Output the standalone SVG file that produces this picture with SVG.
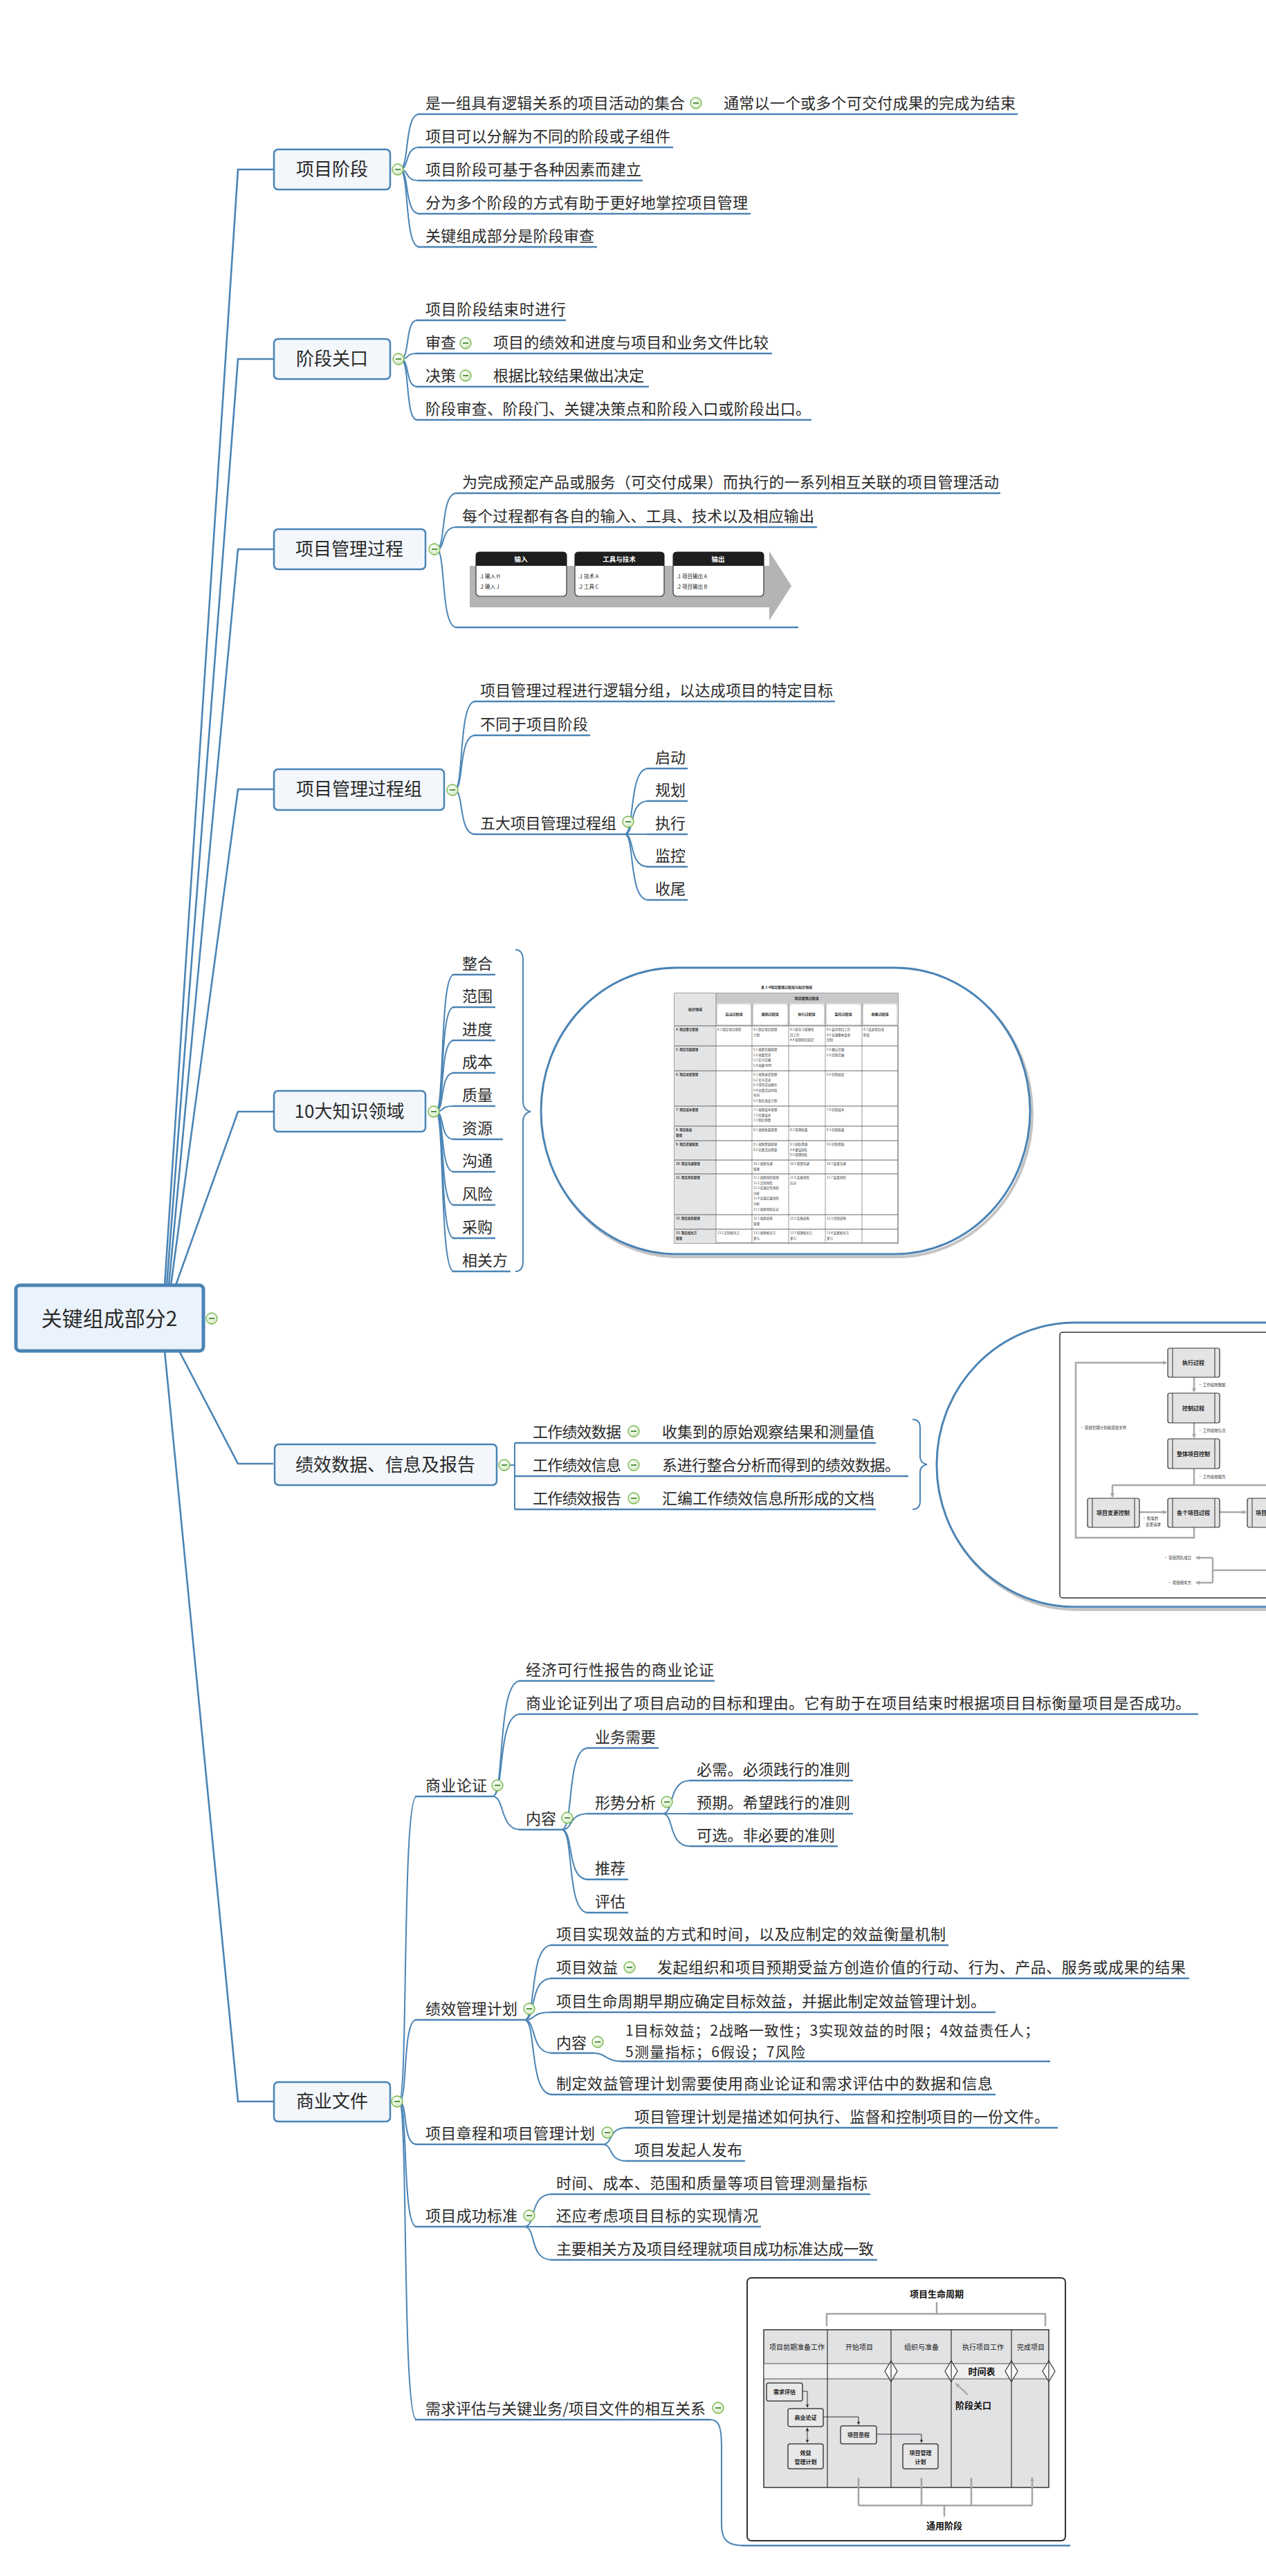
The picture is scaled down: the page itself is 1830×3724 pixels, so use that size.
<svg xmlns="http://www.w3.org/2000/svg" xmlns:xlink="http://www.w3.org/1999/xlink" width="1830" height="3724" viewBox="0 0 1830 3724">
<style>
.t{font-family:"Noto Sans CJK SC","Liberation Sans",sans-serif;font-size:22px;fill:#2a2a2a}
.tb{font-family:"Noto Sans CJK SC","Liberation Sans",sans-serif;font-size:26px;fill:#2a2a2a;text-anchor:middle}
.rt{font-family:"Noto Sans CJK SC","Liberation Sans",sans-serif;font-size:30px;fill:#2a2a2a;text-anchor:middle}
.box{fill:#F3F7FC;stroke:#4A84B5;stroke-width:2.5}
.ul{stroke:#4A84B5;stroke-width:2.5;fill:none}
.cn{stroke:#4A84B5;stroke-width:2;fill:none}
.mb{stroke:#4A84B5;stroke-width:2.6;fill:none}
.sm{font-family:"Noto Sans CJK SC","Liberation Sans",sans-serif;fill:#222}
.ph{font-family:"Noto Sans CJK SC","Liberation Sans",sans-serif;font-size:9.5px;font-weight:bold;fill:#FFFFFF;text-anchor:middle}
.pt{font-family:"Noto Sans CJK SC","Liberation Sans",sans-serif;font-size:7.5px;fill:#222}
.tt{font-family:"Noto Sans CJK SC","Liberation Sans",sans-serif;font-size:4.5px;fill:#333}
.th{font-family:"Noto Sans CJK SC","Liberation Sans",sans-serif;font-size:5px;font-weight:bold;fill:#222;text-anchor:middle}
.fb{fill:#E4E4E4;stroke:#333;stroke-width:1.2}
.fl{font-family:"Noto Sans CJK SC","Liberation Sans",sans-serif;font-size:8px;font-weight:bold;fill:#222;text-anchor:middle}
.fs{font-family:"Noto Sans CJK SC","Liberation Sans",sans-serif;font-size:5.5px;fill:#333}
.ga{stroke:#A8A8A8;stroke-width:2.5;fill:none}
.lb{fill:#E8E8E8;stroke:#444;stroke-width:1.5}
.ll{font-family:"Noto Sans CJK SC","Liberation Sans",sans-serif;font-size:8px;font-weight:bold;fill:#222;text-anchor:middle}
.lh{font-family:"Noto Sans CJK SC","Liberation Sans",sans-serif;font-size:10px;fill:#222;text-anchor:middle}
.lx{font-family:"Noto Sans CJK SC","Liberation Sans",sans-serif;font-size:13px;font-weight:bold;fill:#111;text-anchor:middle}
</style>
<defs>
<radialGradient id="cg" cx="0.4" cy="0.35" r="0.7">
<stop offset="0" stop-color="#FFFFFF"/><stop offset="1" stop-color="#CFE8BC"/>
</radialGradient>
<g id="col"><circle r="8" fill="url(#cg)" stroke="#74B347" stroke-width="1.3"/><line x1="-4" y1="0" x2="4" y2="0" stroke="#2E7D1A" stroke-width="1.6"/></g>
<marker id="ag" markerWidth="6" markerHeight="6" refX="5" refY="3" orient="auto" markerUnits="userSpaceOnUse"><path d="M0,0 L6,3 L0,6 z" fill="#A8A8A8"/></marker>
<marker id="ad" markerWidth="5" markerHeight="5" refX="4.5" refY="2.5" orient="auto" markerUnits="userSpaceOnUse"><path d="M0,0 L5,2.5 L0,5 z" fill="#333"/></marker>
<marker id="ads" markerWidth="5" markerHeight="5" refX="0.5" refY="2.5" orient="auto" markerUnits="userSpaceOnUse"><path d="M5,0 L0,2.5 L5,5 z" fill="#333"/></marker>
</defs>
<rect width="1830" height="3724" fill="#FFFFFF"/>

<!-- connectors -->
<g id="connectors">
<path class="mb" d="M238 1858 L344 245 L395 245"/>
<path class="mb" d="M241 1858 L344 519 L395 519"/>
<path class="mb" d="M244 1858 L344 794 L395 794"/>
<path class="mb" d="M247 1858 L344 1141 L395 1141"/>
<path class="mb" d="M254 1858 L344 1607 L395 1607"/>
<path class="mb" d="M259 1953 L344 2116 L395 2116"/>
<path class="mb" d="M238 1953 L344 3038 L395 3038"/>
<path class="cn" d="M578 245 C592 245 584 165 606 165"/>
<path class="cn" d="M578 245 C592 245 584 213 606 213"/>
<path class="cn" d="M578 245 C592 245 584 261 606 261"/>
<path class="cn" d="M578 245 C592 245 584 309 606 309"/>
<path class="cn" d="M578 245 C592 245 584 357 606 357"/>
<path class="cn" d="M579 519 C593 519 585 463 603 463"/>
<path class="cn" d="M579 519 C593 519 585 511 603 511"/>
<path class="cn" d="M579 519 C593 519 585 559 603 559"/>
<path class="cn" d="M579 519 C593 519 585 607 603 607"/>
<path class="cn" d="M631 794 C645 794 636 713 660 713"/>
<path class="cn" d="M631 794 C645 794 636 762 660 762"/>
<path class="cn" d="M631 794 C645 794 636 907 660 907"/>
<path class="cn" d="M657 1142 C671 1142 662 1014 687 1014"/>
<path class="cn" d="M657 1142 C671 1142 662 1063 687 1063"/>
<path class="cn" d="M657 1142 C671 1142 662 1206 687 1206"/>
<path class="cn" d="M903 1206 C918 1206 908 1111 937 1111"/>
<path class="cn" d="M903 1206 C918 1206 908 1158 937 1158"/>
<path class="cn" d="M903 1206 L937 1206"/>
<path class="cn" d="M903 1206 C918 1206 908 1253 937 1253"/>
<path class="cn" d="M903 1206 C918 1206 908 1301 937 1301"/>
<path class="cn" d="M630 1607 C643 1607 635 1409 656 1409"/>
<path class="cn" d="M630 1607 C643 1607 635 1456 656 1456"/>
<path class="cn" d="M630 1607 C643 1607 635 1504 656 1504"/>
<path class="cn" d="M630 1607 C643 1607 635 1551 656 1551"/>
<path class="cn" d="M630 1607 C643 1607 635 1599 656 1599"/>
<path class="cn" d="M630 1607 C643 1607 635 1647 656 1647"/>
<path class="cn" d="M630 1607 C643 1607 635 1694 656 1694"/>
<path class="cn" d="M630 1607 C643 1607 635 1742 656 1742"/>
<path class="cn" d="M630 1607 C643 1607 635 1790 656 1790"/>
<path class="cn" d="M630 1607 C643 1607 635 1838 656 1838"/>
<path class="cn" d="M733 2118 L744 2118 M744 2086 L744 2182"/>
<path class="cn" d="M577 3038 C590 3038 581 2597 602 2597"/>
<path class="cn" d="M577 3038 C590 3038 581 2920 602 2920"/>
<path class="cn" d="M577 3038 C590 3038 581 3100 602 3100"/>
<path class="cn" d="M577 3038 C590 3038 581 3219 602 3219"/>
<path class="cn" d="M577 3038 C590 3038 581 3498 602 3498"/>
<path class="cn" d="M712 2597 C730 2597 718 2430 752 2430"/>
<path class="cn" d="M712 2597 C730 2597 718 2478 752 2478"/>
<path class="cn" d="M712 2597 C730 2597 722 2645 752 2645"/>
<path class="cn" d="M812 2645 C830 2645 818 2527 850 2527"/>
<path class="cn" d="M812 2645 C830 2645 820 2622 850 2622"/>
<path class="cn" d="M812 2645 C830 2645 818 2717 850 2717"/>
<path class="cn" d="M812 2645 C830 2645 818 2765 850 2765"/>
<path class="cn" d="M958 2622 C975 2622 965 2574 998 2574"/>
<path class="cn" d="M958 2622 L998 2622"/>
<path class="cn" d="M958 2622 C975 2622 965 2669 998 2669"/>
<path class="cn" d="M758 2920 C776 2920 764 2812 798 2812"/>
<path class="cn" d="M758 2920 C776 2920 764 2860 798 2860"/>
<path class="cn" d="M758 2920 C776 2920 766 2909 798 2909"/>
<path class="cn" d="M758 2920 C776 2920 766 2968 798 2968"/>
<path class="cn" d="M758 2920 C776 2920 764 3028 798 3028"/>
<path class="cn" d="M858 2968 C876 2968 876 2980 898 2980"/>
<path class="cn" d="M871 3100 C887 3100 878 3076 906 3076"/>
<path class="cn" d="M871 3100 C887 3100 878 3124 906 3124"/>
<path class="cn" d="M758 3219 C776 3219 764 3172 798 3172"/>
<path class="cn" d="M758 3219 L798 3219"/>
<path class="cn" d="M758 3219 C776 3219 764 3267 798 3267"/>
<path class="cn" d="M1027 3498 C1040 3498 1043 3510 1043 3540 L1043 3650 C1043 3672 1052 3680 1074 3680"/>
</g>

<g id="root">
<rect x="23" y="1858" width="271" height="95" rx="6" fill="#EAF2FB" stroke="#4A84B5" stroke-width="5"/>
<text class="rt" x="158" y="1917">关键组成部分2</text>
<use href="#col" x="306" y="1906"/>
</g>

<g id="n-phase">
<rect class="box" x="396" y="216" width="168" height="58" rx="6"/>
<text class="tb" x="480" y="254">项目阶段</text>
<use href="#col" x="575" y="245"/>
<path class="ul" d="M604 165 H1471 M604 213 H973 M604 261 H929 M604 309 H1085 M604 357 H863"/>
<text class="t" x="615" y="157" textLength="375">是一组具有逻辑关系的项目活动的集合</text>
<use href="#col" x="1006" y="149"/>
<text class="t" x="1046" y="157" textLength="422">通常以一个或多个可交付成果的完成为结束</text>
<text class="t" x="615" y="205" textLength="354">项目可以分解为不同的阶段或子组件</text>
<text class="t" x="615" y="253" textLength="312">项目阶段可基于各种因素而建立</text>
<text class="t" x="615" y="301" textLength="466">分为多个阶段的方式有助于更好地掌控项目管理</text>
<text class="t" x="615" y="349" textLength="244">关键组成部分是阶段审查</text>
</g>

<g id="n-gate">
<rect class="box" x="396" y="490" width="168" height="58" rx="6"/>
<text class="tb" x="480" y="528">阶段关口</text>
<use href="#col" x="576" y="519"/>
<path class="ul" d="M601 463 H818 M601 511 H1116 M601 559 H938 M601 607 H1173"/>
<text class="t" x="615" y="455" textLength="203">项目阶段结束时进行</text>
<text class="t" x="615" y="503" textLength="44">审查</text>
<use href="#col" x="673" y="496"/>
<text class="t" x="713" y="503" textLength="398">项目的绩效和进度与项目和业务文件比较</text>
<text class="t" x="615" y="551" textLength="44">决策</text>
<use href="#col" x="673" y="543"/>
<text class="t" x="713" y="551" textLength="218">根据比较结果做出决定</text>
<text class="t" x="615" y="599" textLength="557">阶段审查、阶段门、关键决策点和阶段入口或阶段出口。</text>
</g>

<g id="n-process">
<rect class="box" x="396" y="765" width="219" height="58" rx="6"/>
<text class="tb" x="505" y="803">项目管理过程</text>
<use href="#col" x="628" y="794"/>
<path class="ul" d="M658 713 H1446 M658 762 H1181 M658 907 H1154"/>
<text class="t" x="668" y="705" textLength="776">为完成预定产品或服务（可交付成果）而执行的一系列相互关联的项目管理活动</text>
<text class="t" x="668" y="754" textLength="509">每个过程都有各自的输入、工具、技术以及相应输出</text>
<g id="process-figure">
<polygon points="679,818 1112,818 1112,797 1144,847 1112,897 1112,878 679,878" fill="#B4B4B7"/>
<rect x="688" y="798" width="131" height="64" rx="5" fill="#FFFFFF" stroke="#333" stroke-width="1.2"/>
<path d="M688 818 V803 Q688 798 693 798 H814 Q819 798 819 803 V818 Z" fill="#1E1E1E"/>
<text class="ph" x="753" y="812">输入</text>
<text class="pt" x="693" y="836">.1 输入 H</text>
<text class="pt" x="693" y="851">.2 输入 J</text>
<rect x="831" y="798" width="129" height="64" rx="5" fill="#FFFFFF" stroke="#333" stroke-width="1.2"/>
<path d="M831 818 V803 Q831 798 836 798 H955 Q960 798 960 803 V818 Z" fill="#1E1E1E"/>
<text class="ph" x="895" y="812">工具与技术</text>
<text class="pt" x="836" y="836">.1 技术 A</text>
<text class="pt" x="836" y="851">.2 工具 C</text>
<rect x="973" y="798" width="131" height="64" rx="5" fill="#FFFFFF" stroke="#333" stroke-width="1.2"/>
<path d="M973 818 V803 Q973 798 978 798 H1099 Q1104 798 1104 803 V818 Z" fill="#1E1E1E"/>
<text class="ph" x="1038" y="812">输出</text>
<text class="pt" x="978" y="836">.1 项目输出 A</text>
<text class="pt" x="978" y="851">.2 项目输出 B</text>
</g>
</g>

<g id="n-groups">
<rect class="box" x="396" y="1112" width="246" height="59" rx="6"/>
<text class="tb" x="519" y="1150">项目管理过程组</text>
<use href="#col" x="654" y="1142"/>
<path class="ul" d="M685 1014 H1207 M685 1063 H853 M685 1206 H903"/>
<text class="t" x="694" y="1006" textLength="510">项目管理过程进行逻辑分组，以达成项目的特定目标</text>
<text class="t" x="694" y="1055" textLength="156">不同于项目阶段</text>
<text class="t" x="694" y="1198" textLength="197">五大项目管理过程组</text>
<use href="#col" x="908" y="1188"/>
<path class="ul" d="M935 1111 H994 M935 1158 H994 M935 1206 H994 M935 1253 H994 M935 1301 H994"/>
<text class="t" x="947" y="1103">启动</text>
<text class="t" x="947" y="1150">规划</text>
<text class="t" x="947" y="1198">执行</text>
<text class="t" x="947" y="1245">监控</text>
<text class="t" x="947" y="1293">收尾</text>
</g>

<g id="n-knowledge">
<rect class="box" x="396" y="1577" width="219" height="59" rx="6"/>
<text class="tb" x="505" y="1616">10大知识领域</text>
<use href="#col" x="627" y="1607"/>
<path class="ul" d="M654 1409 H716 M654 1456 H716 M654 1504 H716 M654 1551 H716 M654 1599 H716 M654 1647 H727 M654 1694 H716 M654 1742 H716 M654 1790 H716 M654 1838 H738"/>
<text class="t" x="668" y="1401">整合</text>
<text class="t" x="668" y="1448">范围</text>
<text class="t" x="668" y="1496">进度</text>
<text class="t" x="668" y="1543">成本</text>
<text class="t" x="668" y="1591">质量</text>
<text class="t" x="668" y="1639">资源</text>
<text class="t" x="668" y="1686">沟通</text>
<text class="t" x="668" y="1734">风险</text>
<text class="t" x="668" y="1782">采购</text>
<text class="t" x="668" y="1830">相关方</text>
<path class="cn" d="M745 1373 Q756 1373 756 1388 L756 1592 Q756 1605 767 1607 Q756 1609 756 1622 L756 1823 Q756 1838 745 1838"/>
<rect x="785" y="1403" width="707" height="414" rx="195" ry="207" fill="none" stroke="#C4C4C4" stroke-width="4"/>
<rect x="782" y="1399" width="707" height="414" rx="195" ry="207" fill="#FFFFFF" stroke="#4A84B5" stroke-width="3"/>
<g id="kb-table">
<text class="th" x="1137" y="1429">表 1-4项目管理过程组与知识领域</text>
<rect x="975" y="1436" width="323" height="361" fill="#FFFFFF" stroke="#444" stroke-width="1"/>
<rect x="975" y="1436" width="60" height="361" fill="#E3E4E6"/>
<rect x="1035" y="1436" width="263" height="14" fill="#C9C9CB"/>
<rect x="1035" y="1450" width="263" height="33" fill="#D9DADC"/>
<rect x="1037" y="1452" width="48" height="29" rx="4" fill="#FFFFFF"/>
<rect x="1089" y="1452" width="49" height="29" rx="4" fill="#FFFFFF"/>
<rect x="1142" y="1452" width="49" height="29" rx="4" fill="#FFFFFF"/>
<rect x="1195" y="1452" width="49" height="29" rx="4" fill="#FFFFFF"/>
<rect x="1248" y="1452" width="48" height="29" rx="4" fill="#FFFFFF"/>
<text class="th" x="1166" y="1445">项目管理过程组</text>
<text class="th" x="1005" y="1461">知识领域</text>
<text class="th" x="1061" y="1468">启动过程组</text>
<text class="th" x="1113" y="1468">规划过程组</text>
<text class="th" x="1166" y="1468">执行过程组</text>
<text class="th" x="1219" y="1468">监控过程组</text>
<text class="th" x="1272" y="1468">收尾过程组</text>
<path d="M975 1483 H1298 M975 1512 H1298 M975 1548 H1298 M975 1599 H1298 M975 1628 H1298 M975 1649 H1298 M975 1677 H1298 M975 1697 H1298 M975 1756 H1298 M975 1777 H1298" stroke="#666" stroke-width="1"/>
<path d="M1035 1436 V1797 M1087 1450 V1797 M1140 1450 V1797 M1193 1450 V1797 M1246 1450 V1797" stroke="#555" stroke-width="0.6"/>
<text class="tt" font-weight="bold" x="977" y="1490">4. 项目整合管理</text>
<text class="tt" x="1037" y="1490">4.1 制定项目章程</text>
<text class="tt" y="1490"><tspan x="1089">4.2 制定项目管理</tspan><tspan x="1089" dy="7.6">计划</tspan></text>
<text class="tt" y="1490"><tspan x="1142">4.3 指导与管理项</tspan><tspan x="1142" dy="7.6">目工作</tspan><tspan x="1142" dy="7.6">4.4 管理项目知识</tspan></text>
<text class="tt" y="1490"><tspan x="1195">4.5 监控项目工作</tspan><tspan x="1195" dy="7.6">4.6 实施整体变更</tspan><tspan x="1195" dy="7.6">控制</tspan></text>
<text class="tt" y="1490"><tspan x="1248">4.7 结束项目或</tspan><tspan x="1248" dy="7.6">阶段</tspan></text>
<text class="tt" font-weight="bold" x="977" y="1519">5. 项目范围管理</text>
<text class="tt" y="1519"><tspan x="1089">5.1 规划范围管理</tspan><tspan x="1089" dy="7.6">5.2 收集需求</tspan><tspan x="1089" dy="7.6">5.3 定义范围</tspan><tspan x="1089" dy="7.6">5.4 创建 WBS</tspan></text>
<text class="tt" y="1519"><tspan x="1195">5.5 确认范围</tspan><tspan x="1195" dy="7.6">5.6 控制范围</tspan></text>
<text class="tt" font-weight="bold" x="977" y="1555">6. 项目进度管理</text>
<text class="tt" y="1555"><tspan x="1089">6.1 规划进度管理</tspan><tspan x="1089" dy="7.6">6.2 定义活动</tspan><tspan x="1089" dy="7.6">6.3 排列活动顺序</tspan><tspan x="1089" dy="7.6">6.4 估算活动持续</tspan><tspan x="1089" dy="7.6">时间</tspan><tspan x="1089" dy="7.6">6.5 制定进度计划</tspan></text>
<text class="tt" x="1195" y="1555">6.6 控制进度</text>
<text class="tt" font-weight="bold" x="977" y="1606">7. 项目成本管理</text>
<text class="tt" y="1606"><tspan x="1089">7.1 规划成本管理</tspan><tspan x="1089" dy="7.6">7.2 估算成本</tspan><tspan x="1089" dy="7.6">7.3 制定预算</tspan></text>
<text class="tt" x="1195" y="1606">7.4 控制成本</text>
<text class="tt" font-weight="bold" y="1635"><tspan x="977">8. 项目质量</tspan><tspan x="977" dy="7.6">管理</tspan></text>
<text class="tt" x="1089" y="1635">8.1 规划质量管理</text>
<text class="tt" x="1142" y="1635">8.2 管理质量</text>
<text class="tt" x="1195" y="1635">8.3 控制质量</text>
<text class="tt" font-weight="bold" x="977" y="1656">9. 项目资源管理</text>
<text class="tt" y="1656"><tspan x="1089">9.1 规划资源管理</tspan><tspan x="1089" dy="7.6">9.2 估算活动资源</tspan></text>
<text class="tt" y="1656"><tspan x="1142">9.3 获取资源</tspan><tspan x="1142" dy="7.6">9.4 建设团队</tspan><tspan x="1142" dy="7.6">9.5 管理团队</tspan></text>
<text class="tt" x="1195" y="1656">9.6 控制资源</text>
<text class="tt" font-weight="bold" x="977" y="1684">10. 项目沟通管理</text>
<text class="tt" y="1684"><tspan x="1089">10.1 规划沟通</tspan><tspan x="1089" dy="7.6">管理</tspan></text>
<text class="tt" x="1142" y="1684">10.2 管理沟通</text>
<text class="tt" x="1195" y="1684">10.3 监督沟通</text>
<text class="tt" font-weight="bold" x="977" y="1704">11. 项目风险管理</text>
<text class="tt" y="1704"><tspan x="1089">11.1 规划风险管理</tspan><tspan x="1089" dy="7.6">11.2 识别风险</tspan><tspan x="1089" dy="7.6">11.3 实施定性风险</tspan><tspan x="1089" dy="7.6">分析</tspan><tspan x="1089" dy="7.6">11.4 实施定量风险</tspan><tspan x="1089" dy="7.6">分析</tspan><tspan x="1089" dy="7.6">11.5 规划风险应对</tspan></text>
<text class="tt" y="1704"><tspan x="1142">11.6 实施风险</tspan><tspan x="1142" dy="7.6">应对</tspan></text>
<text class="tt" x="1195" y="1704">11.7 监督风险</text>
<text class="tt" font-weight="bold" x="977" y="1763">12. 项目采购管理</text>
<text class="tt" y="1763"><tspan x="1089">12.1 规划采购</tspan><tspan x="1089" dy="7.6">管理</tspan></text>
<text class="tt" x="1142" y="1763">12.2 实施采购</text>
<text class="tt" x="1195" y="1763">12.3 控制采购</text>
<text class="tt" font-weight="bold" y="1784"><tspan x="977">13. 项目相关方</tspan><tspan x="977" dy="7.6">管理</tspan></text>
<text class="tt" x="1037" y="1784">13.1 识别相关方</text>
<text class="tt" y="1784"><tspan x="1089">13.2 规划相关方</tspan><tspan x="1089" dy="7.6">参与</tspan></text>
<text class="tt" y="1784"><tspan x="1142">13.3 管理相关方</tspan><tspan x="1142" dy="7.6">参与</tspan></text>
<text class="tt" y="1784"><tspan x="1195">13.4 监督相关方</tspan><tspan x="1195" dy="7.6">参与</tspan></text>
</g>
</g>

<g id="n-performance">
<rect class="box" x="397" y="2088" width="321" height="59" rx="6"/>
<text class="tb" x="557" y="2127">绩效数据、信息及报告</text>
<use href="#col" x="729" y="2118"/>
<path class="ul" d="M744 2086 H1266 M744 2134 H1313 M744 2182 H1266"/>
<text class="t" x="770" y="2078" textLength="128">工作绩效数据</text>
<use href="#col" x="916" y="2069"/>
<text class="t" x="957" y="2078" textLength="307">收集到的原始观察结果和测量值</text>
<text class="t" x="770" y="2126" textLength="128">工作绩效信息</text>
<use href="#col" x="916" y="2118"/>
<text class="t" x="957" y="2126" textLength="344">系进行整合分析而得到的绩效数据。</text>
<text class="t" x="770" y="2174" textLength="128">工作绩效报告</text>
<use href="#col" x="916" y="2166"/>
<text class="t" x="957" y="2174" textLength="307">汇编工作绩效信息所形成的文档</text>
<path class="cn" d="M1319 2052 Q1330 2052 1330 2064 L1330 2106 Q1330 2115 1340 2117 Q1330 2119 1330 2128 L1330 2170 Q1330 2182 1319 2182"/>
<rect x="1357" y="1916" width="700" height="411" rx="200" ry="205" fill="none" stroke="#C4C4C4" stroke-width="4"/>
<rect x="1354" y="1912" width="700" height="411" rx="200" ry="205" fill="#FFFFFF" stroke="#4A84B5" stroke-width="3"/>
<g id="flow-figure">
<rect x="1532" y="1926" width="400" height="384" rx="4" fill="#FFFFFF" stroke="#333" stroke-width="1.5"/>
<path class="ga" d="M1726 1991 V2012" marker-end="url(#ag)"/>
<path class="ga" d="M1726 2057 V2078" marker-end="url(#ag)"/>
<path class="ga" d="M1726 2123 V2147"/>
<path class="ga" d="M1608 2147 H1830"/>
<path class="ga" d="M1608 2147 V2164" marker-end="url(#ag)"/>
<path class="ga" d="M1647 2186 H1686" marker-end="url(#ag)"/>
<path class="ga" d="M1763 2186 H1801" marker-end="url(#ag)"/>
<path class="ga" d="M1726 2208 V2223 H1555 V1970 H1686" marker-end="url(#ag)"/>
<path class="ga" d="M1753 2252 V2288 M1753 2270 H1830"/>
<path class="ga" d="M1753 2252 H1729" marker-end="url(#ag)"/>
<path class="ga" d="M1753 2288 H1729" marker-end="url(#ag)"/>
<rect class="fb" x="1688" y="1949" width="75" height="42" rx="3"/>
<path d="M1695 1949 V1991 M1756 1949 V1991" stroke="#333" stroke-width="1"/>
<text class="fl" x="1725" y="1973">执行过程</text>
<rect class="fb" x="1688" y="2014" width="75" height="43" rx="3"/>
<path d="M1695 2014 V2057 M1756 2014 V2057" stroke="#333" stroke-width="1"/>
<text class="fl" x="1725" y="2039">控制过程</text>
<rect class="fb" x="1688" y="2080" width="75" height="43" rx="3"/>
<path d="M1695 2080 V2123 M1756 2080 V2123" stroke="#333" stroke-width="1"/>
<text class="fl" x="1725" y="2105">整体项目控制</text>
<rect class="fb" x="1572" y="2166" width="75" height="42" rx="3"/>
<path d="M1579 2166 V2208 M1640 2166 V2208" stroke="#333" stroke-width="1"/>
<text class="fl" x="1609" y="2190">项目变更控制</text>
<rect class="fb" x="1688" y="2166" width="75" height="42" rx="3"/>
<path d="M1695 2166 V2208 M1756 2166 V2208" stroke="#333" stroke-width="1"/>
<text class="fl" x="1725" y="2190">各个项目过程</text>
<rect class="fb" x="1803" y="2166" width="75" height="42" rx="3"/>
<path d="M1810 2166 V2208" stroke="#333" stroke-width="1"/>
<text class="fl" x="1815" y="2190" style="text-anchor:start">项目</text>
<text class="fs" x="1732" y="2004">• 工作绩效数据</text>
<text class="fs" x="1732" y="2070">• 工作绩效信息</text>
<text class="fs" x="1732" y="2137">• 工作绩效报告</text>
<text class="fs" x="1561" y="2066">• 项目管理计划和项目文件</text>
<text class="fs" x="1651" y="2197">• 批准的</text>
<text class="fs" x="1656" y="2206">变更请求</text>
<text class="fs" x="1722" y="2254" text-anchor="end">• 项目团队成员</text>
<text class="fs" x="1722" y="2290" text-anchor="end">• 项目相关方</text>
</g>
</g>

<g id="n-business">
<rect class="box" x="396" y="3010" width="168" height="57" rx="6"/>
<text class="tb" x="480" y="3047">商业文件</text>
<use href="#col" x="574" y="3038"/>
<path class="ul" d="M600 2597 H712 M600 2920 H758 M600 3100 H871 M600 3219 H758 M600 3498 H1027"/>
<text class="t" x="615" y="2589" textLength="89">商业论证</text>
<use href="#col" x="719" y="2581"/>
<text class="t" x="615" y="2912" textLength="133">绩效管理计划</text>
<use href="#col" x="765" y="2904"/>
<text class="t" x="615" y="3092" textLength="245">项目章程和项目管理计划</text>
<use href="#col" x="878" y="3083"/>
<text class="t" x="615" y="3211" textLength="133">项目成功标准</text>
<use href="#col" x="765" y="3203"/>
<text class="t" x="615" y="3490" textLength="405">需求评估与关键业务/项目文件的相互关系</text>
<use href="#col" x="1038" y="3481"/>

<g id="n-case">
<path class="ul" d="M750 2430 H1033 M750 2478 H1732 M750 2645 H812"/>
<text class="t" x="760" y="2422" textLength="272">经济可行性报告的商业论证</text>
<text class="t" x="760" y="2470" textLength="961">商业论证列出了项目启动的目标和理由。它有助于在项目结束时根据项目目标衡量项目是否成功。</text>
<text class="t" x="760" y="2637" textLength="44">内容</text>
<use href="#col" x="820" y="2628"/>
<path class="ul" d="M848 2527 H952 M848 2622 H958 M848 2717 H908 M848 2765 H908"/>
<text class="t" x="860" y="2519" textLength="88">业务需要</text>
<text class="t" x="860" y="2614" textLength="88">形势分析</text>
<use href="#col" x="964" y="2605"/>
<text class="t" x="860" y="2709" textLength="44">推荐</text>
<text class="t" x="860" y="2757" textLength="44">评估</text>
<path class="ul" d="M996 2574 H1233 M996 2622 H1233 M996 2669 H1211"/>
<text class="t" x="1007" y="2566" textLength="222">必需。必须践行的准则</text>
<text class="t" x="1007" y="2614" textLength="222">预期。希望践行的准则</text>
<text class="t" x="1007" y="2661" textLength="200">可选。非必要的准则</text>
</g>

<g id="n-benefit">
<path class="ul" d="M796 2812 H1371 M796 2860 H1719 M796 2909 H1439 M796 2968 H858 M896 2980 H1518 M796 3028 H1439"/>
<text class="t" x="804" y="2804" textLength="563">项目实现效益的方式和时间，以及应制定的效益衡量机制</text>
<text class="t" x="804" y="2852" textLength="89">项目效益</text>
<use href="#col" x="910" y="2844"/>
<text class="t" x="950" y="2852" textLength="764">发起组织和项目预期受益方创造价值的行动、行为、产品、服务或成果的结果</text>
<text class="t" x="804" y="2901" textLength="621">项目生命周期早期应确定目标效益，并据此制定效益管理计划。</text>
<text class="t" x="804" y="2961" textLength="44">内容</text>
<use href="#col" x="864" y="2952"/>
<text class="t" x="904" y="2943" textLength="598" style="font-size:21px">1目标效益；2战略一致性；3实现效益的时限；4效益责任人；</text>
<text class="t" x="904" y="2974" textLength="260" style="font-size:21px">5测量指标；6假设；7风险</text>
<text class="t" x="804" y="3020" textLength="631">制定效益管理计划需要使用商业论证和需求评估中的数据和信息</text>
</g>

<g id="n-charter">
<path class="ul" d="M904 3076 H1529 M904 3124 H1077"/>
<text class="t" x="917" y="3068" textLength="600">项目管理计划是描述如何执行、监督和控制项目的一份文件。</text>
<text class="t" x="917" y="3116" textLength="156">项目发起人发布</text>
</g>

<g id="n-success">
<path class="ul" d="M796 3172 H1258 M796 3219 H1100 M796 3267 H1268"/>
<text class="t" x="804" y="3164" textLength="450">时间、成本、范围和质量等项目管理测量指标</text>
<text class="t" x="804" y="3211" textLength="292">还应考虑项目目标的实现情况</text>
<text class="t" x="804" y="3259" textLength="459">主要相关方及项目经理就项目成功标准达成一致</text>
</g>

<g id="n-lifecycle">
<path class="ul" d="M1072 3680 H1547"/>
<rect x="1080" y="3293" width="460" height="380" rx="6" fill="#FFFFFF" stroke="#333" stroke-width="2"/>
<text class="lx" x="1354" y="3321">项目生命周期</text>
<path d="M1354 3328 V3345 M1195 3363 V3345 H1511 V3363" stroke="#A5A5A5" stroke-width="2.5" fill="none"/>
<rect x="1104" y="3368" width="412" height="228" fill="#E1E2E4" stroke="#333" stroke-width="1.5"/>
<rect x="1104" y="3417" width="412" height="22" fill="#EFEFF0" stroke="#555" stroke-width="1"/>
<path d="M1196 3368 V3596 M1288 3368 V3596 M1375 3368 V3596 M1462 3368 V3596" stroke="#333" stroke-width="1.2"/>
<text class="lh" x="1152" y="3397">项目前期准备工作</text>
<text class="lh" x="1242" y="3397">开始项目</text>
<text class="lh" x="1332" y="3397">组织与准备</text>
<text class="lh" x="1421" y="3397">执行项目工作</text>
<text class="lh" x="1490" y="3397">完成项目</text>
<path d="M1279 3428 L1288 3413 L1297 3428 L1288 3443 Z M1366 3428 L1375 3413 L1384 3428 L1375 3443 Z M1453 3428 L1462 3413 L1471 3428 L1462 3443 Z M1507 3428 L1516 3413 L1525 3428 L1516 3443 Z" fill="#FFFFFF" stroke="#333" stroke-width="1.2"/>
<path d="M1288 3413 V3443 M1375 3413 V3443 M1462 3413 V3443 M1516 3413 V3443" stroke="#333" stroke-width="1.2"/>
<text class="lx" x="1419" y="3433">时间表</text>
<path d="M1399 3462 L1382 3446" stroke="#A5A5A5" stroke-width="2" fill="none" marker-end="url(#ag)"/>
<text class="lx" x="1407" y="3482">阶段关口</text>
<path d="M1160 3457 H1167 V3480" stroke="#333" stroke-width="1" fill="none" marker-end="url(#ad)"/>
<path d="M1190 3494 H1241 V3505" stroke="#333" stroke-width="1" fill="none" marker-end="url(#ad)"/>
<path d="M1267 3519 H1332 V3531" stroke="#333" stroke-width="1" fill="none" marker-end="url(#ad)"/>
<path d="M1167 3510 V3531" stroke="#333" stroke-width="1" fill="none" marker-start="url(#ads)" marker-end="url(#ad)"/>
<rect class="lb" x="1108" y="3445" width="52" height="26" rx="3"/>
<text class="ll" x="1134" y="3461">需求评估</text>
<rect class="lb" x="1139" y="3482" width="51" height="26" rx="3"/>
<text class="ll" x="1164.5" y="3498">商业论证</text>
<rect class="lb" x="1139" y="3533" width="51" height="36" rx="3"/>
<text class="ll" x="1164.5" y="3549">效益</text>
<text class="ll" x="1164.5" y="3562">管理计划</text>
<rect class="lb" x="1215" y="3507" width="52" height="26" rx="3"/>
<text class="ll" x="1241" y="3523">项目章程</text>
<rect class="lb" x="1305" y="3533" width="51" height="36" rx="3"/>
<text class="ll" x="1330.5" y="3549">项目管理</text>
<text class="ll" x="1330.5" y="3562">计划</text>
<path d="M1241 3622 H1492 M1365 3622 V3638" stroke="#A5A5A5" stroke-width="2.5" fill="none"/>
<path d="M1241 3622 V3582 M1332 3622 V3582 M1404 3622 V3582 M1492 3622 V3582" stroke="#A5A5A5" stroke-width="2.5" fill="none" marker-end="url(#ag)"/>
<text class="lx" x="1365" y="3656">通用阶段</text>
</g>
</g>
</svg>
